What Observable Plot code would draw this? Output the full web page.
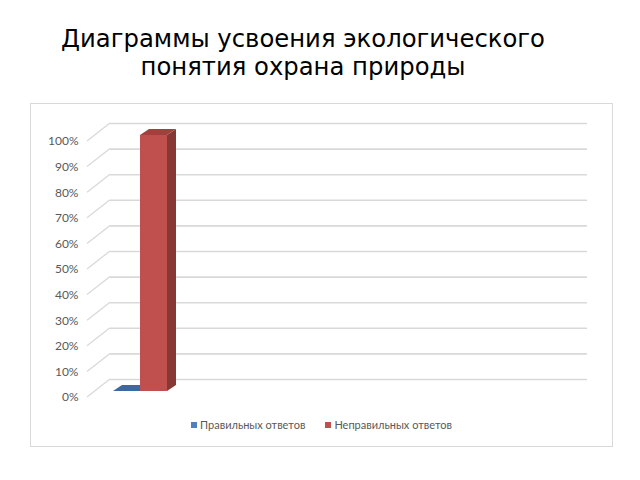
<!DOCTYPE html>
<html>
<head>
<meta charset="utf-8">
<script src="https://cdn.jsdelivr.net/npm/d3@7"></script>
<script src="https://cdn.jsdelivr.net/npm/@observablehq/plot@0.6"></script>
<style>
  html, body { margin: 0; padding: 0; background: #fff; }
  #title { position: absolute; left: 0; top: 25px; width: 606px; text-align: center;
    font-family: "DejaVu Sans", sans-serif; font-size: 24.3px; line-height: 28px; color: #000; }
  #box { position: absolute; left: 30px; top: 103px; width: 581px; height: 342px;
    border: 1px solid #d9d9d9; box-sizing: content-box; }
  #chart { position: absolute; left: 0; top: 0; }
  #legend { position: absolute; left: 0; top: 314px; width: 581px; text-align: center;
    font-family: Lato, sans-serif; font-size: 11px; color: #595959; }
  .item { display: inline-block; margin: 0 10px; }
  .sw { display: inline-block; width: 6px; height: 6px; margin-right: 3px; vertical-align: 1px; }
</style>
</head>
<body>
<div id="title">Диаграммы усвоения экологического<br>понятия охрана природы</div>
<div id="box">
  <div id="chart"></div>
  <div id="legend"></div>
</div>
<script>
const series = ["Правильных ответов", "Неправильных ответов"];
const values = [0, 100];
const frontColors = ["#4f81bd", "#c0504d"];
const sideColors = ["#35577f", "#873835"];
const topColors = ["#3e68a0", "#a2403d"];
const yTicks = [0, 10, 20, 30, 40, 50, 60, 70, 80, 90, 100];

const data = series.map((s, i) => ({series: s, value: values[i], front: frontColors[i], side: sideColors[i], top: topColors[i]}));

// 3D depth offsets (pixels)
const depthX = 9, depthY = -6;
const wallDy = -12, labelDy = 6, diagDx = -23;

function diagonals(index, scales, values, dim) {
  const g = d3.create("svg:g");
  const y = scales.y;
  for (const t of yTicks) {
    g.append("line")
      .attr("x1", dim.marginLeft + diagDx).attr("y1", y(t) + labelDy)
      .attr("x2", dim.marginLeft).attr("y2", y(t) + wallDy)
      .attr("stroke", "#d9d9d9").attr("stroke-width", 1.3);
  }
  return g.node();
}

function faces(index, scales) {
  const g = d3.create("svg:g");
  const x = scales.x, y = scales.y;
  const bw = typeof x.bandwidth === "function" ? x.bandwidth() : scales.scales.x.bandwidth;
  for (const d of data) {
    const x0 = x(d.series), x1 = x0 + bw;
    const yb = y(0), yt = y(d.value);
    if (d.value > 0) {
      g.append("path")
        .attr("d", `M${x1},${yt}L${x1 + depthX},${yt + depthY}L${x1 + depthX},${yb + depthY}L${x1},${yb}Z`)
        .attr("fill", d.side);
    }
    g.append("path")
      .attr("d", `M${x0},${yt}L${x0 + depthX},${yt + depthY}L${x1 + depthX},${yt + depthY}L${x1},${yt}Z`)
      .attr("fill", d.top);
  }
  return g.node();
}

const chart = Plot.plot({
  width: 581,
  height: 300,
  marginTop: 31,
  marginBottom: 13,
  marginLeft: 79,
  marginRight: 25,
  style: {background: "transparent", fontFamily: "Lato, sans-serif"},
  x: {domain: series, range: [82, 136], padding: 0, axis: null},
  y: {domain: [0, 100], ticks: yTicks, axis: null, label: null},
  marks: [
    Plot.ruleY(yTicks, {stroke: "#d9d9d9", strokeWidth: 1.6, dy: wallDy}),
    diagonals,
    Plot.axisY(yTicks, {anchor: "left", tickSize: 0, tickPadding: 32, dy: labelDy, label: null,
      tickFormat: d => d + "%", fontSize: 12, fill: "#595959"}),
    faces,
    Plot.barY(data, {x: "series", y: "value", fill: "front", insetLeft: 0, insetRight: 0})
  ]
});
document.getElementById("chart").appendChild(chart);

const legend = document.getElementById("legend");
series.forEach((s, i) => {
  const item = document.createElement("span");
  item.className = "item";
  const sw = document.createElement("span");
  sw.className = "sw";
  sw.style.background = frontColors[i];
  item.appendChild(sw);
  item.appendChild(document.createTextNode(s));
  legend.appendChild(item);
});
</script>
</body>
</html>
